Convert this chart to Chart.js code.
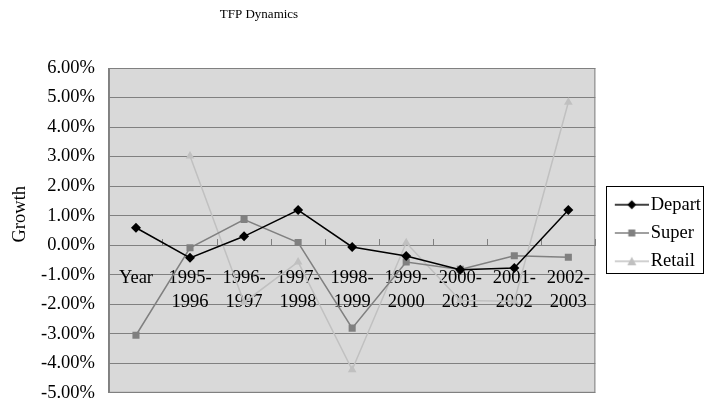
<!DOCTYPE html>
<html>
<head>
<meta charset="utf-8">
<script src="https://cdn.jsdelivr.net/npm/chart.js@4"></script>
<style>
html, body { margin: 0; padding: 0; background: #fff; }
#wrap { width: 705px; height: 403px; }
</style>
</head>
<body>
<div id="wrap"><canvas id="myChart" width="705" height="403"></canvas></div>
<script>
// data (values in %)
const categories = ['Year', ['1995-', '1996'], ['1996-', '1997'], ['1997-', '1998'], ['1998-', '1999'],
  ['1999-', '2000'], ['2000-', '2001'], ['2001-', '2002'], ['2002-', '2003']];
const depart = [0.59, -0.43, 0.30, 1.19, -0.06, -0.37, -0.83, -0.77, 1.19];
const superValues = [-3.05, -0.09, 0.87, 0.09, -2.81, -0.57, -0.82, -0.36, -0.41];
const retail = [null, 3.02, -1.94, -0.57, -4.22, 0.08, -1.87, -1.90, 4.84];
const yMin = -5;
const yMax = 6;
const yStep = 1;

const serif = "'Liberation Serif', 'Times New Roman', serif";

// line + marker pictures for the legend (line sits in the right part of the image)
function makeIcon(color, shape) {
  let c = document.createElement('canvas');
  c.width = 51; c.height = 12;
  let ctx = c.getContext('2d');
  ctx.strokeStyle = color;
  ctx.fillStyle = color;
  ctx.lineWidth = 1.5;
  ctx.beginPath(); ctx.moveTo(17, 6); ctx.lineTo(51, 6); ctx.stroke();
  ctx.beginPath();
  let m = 34;
  if (shape == 'diamond') {
    ctx.moveTo(m, 1.5); ctx.lineTo(m + 4.5, 6); ctx.lineTo(m, 10.5); ctx.lineTo(m - 4.5, 6);
  } else if (shape == 'square') {
    ctx.rect(m - 3.5, 2.5, 7, 7);
  } else {
    ctx.moveTo(m, 1.5); ctx.lineTo(m + 4.5, 10); ctx.lineTo(m - 4.5, 10);
  }
  ctx.closePath(); ctx.fill();
  return c;
}
const icons = [makeIcon('#000000', 'diamond'), makeIcon('#808080', 'square'), makeIcon('#c0c0c0', 'triangle')];

const plotBox = {
  id: 'plotBox',
  beforeDraw(chart) {
    const {ctx, chartArea: a} = chart;
    ctx.save();
    ctx.fillStyle = '#d9d9d9';
    ctx.fillRect(a.left, a.top, a.right - a.left, a.bottom - a.top);
    ctx.strokeStyle = '#808080';
    ctx.lineWidth = 1;
    ctx.strokeRect(a.left + 0.5, a.top + 0.5, a.right - a.left - 1, a.bottom - a.top - 1);
    ctx.restore();
  },
  afterLayout(chart) {
    // title sits left of centre in the original
    if (chart.titleBlock) {
      chart.titleBlock.left = 0;
      chart.titleBlock.right = 518;
    }
  },
  afterDraw(chart) {
    const hb = chart.legend.legendHitBoxes;
    if (!hb || !hb.length) return;
    const ctx = chart.ctx;
    let last = hb[hb.length - 1];
    let x0 = Math.round(chart.chartArea.right + 11);
    let y0 = Math.round(hb[0].top + hb[0].height / 2 - 19);
    let y1 = Math.round(last.top + last.height / 2 + 12);
    ctx.save();
    ctx.strokeStyle = '#000';
    ctx.lineWidth = 1;
    ctx.strokeRect(x0 + 0.5, y0 + 0.5, 703 - x0, y1 - y0);
    ctx.restore();
  }
};

const mydata = {
  labels: categories,
  datasets: [{
    label: 'Depart',
    data: depart,
    borderColor: '#000000',
    backgroundColor: '#000000',
    borderWidth: 1.5,
    pointStyle: 'rectRot',
    pointRadius: 5,
    pointBorderWidth: 0,
    tension: 0
  }, {
    label: 'Super',
    data: superValues,
    borderColor: '#808080',
    backgroundColor: '#808080',
    borderWidth: 1.5,
    pointStyle: 'rect',
    pointRadius: 5,
    pointBorderWidth: 0,
    tension: 0
  }, {
    label: 'Retail',
    data: retail,
    borderColor: '#c0c0c0',
    backgroundColor: '#c0c0c0',
    borderWidth: 1.5,
    pointStyle: 'triangle',
    pointRadius: 5,
    pointBorderWidth: 0,
    tension: 0
  }]
};

const myconfig = {
  type: 'line',
  data: mydata,
  plugins: [plotBox],
  options: {
    responsive: false,
    animation: false,
    layout: { padding: { left: 9, right: -6, top: 0, bottom: 0 } },
    plugins: {
      tooltip: { enabled: false },
      title: {
        display: true,
        text: 'TFP Dynamics',
        color: '#000',
        font: { family: serif, size: 13, weight: 'normal' },
        padding: { top: 7, bottom: 45.4 }
      },
      legend: {
        position: 'right',
        title: { display: true, text: ' ', font: { size: 10 }, padding: { top: 0, bottom: 51 } },
        labels: {
          usePointStyle: true,
          pointStyleWidth: 36.25,
          padding: 9.8,
          color: '#000',
          font: { family: serif, size: 18.5 },
          generateLabels(chart) {
            return chart.data.datasets.map((ds, i) => ({
              text: ds.label,
              pointStyle: icons[i],
              fillStyle: ds.borderColor,
              strokeStyle: ds.borderColor,
              lineWidth: 0,
              fontColor: '#000',
              hidden: false,
              datasetIndex: i
            }));
          }
        }
      }
    },
    scales: {
      x: {
        position: { y: 0 },
        offset: true,
        grid: { display: true, drawOnChartArea: false, drawTicks: true, tickLength: 21, tickColor: 'rgba(0,0,0,0)', offset: true },
        border: { display: true, color: '#808080' },
        ticks: {
          color: '#000',
          font: { family: serif, size: 18.5, lineHeight: 1.3 },
          maxRotation: 0,
          autoSkip: false,
          padding: 0
        }
      },
      // second category axis only for the small marks above the zero line
      xMarks: {
        type: 'category',
        position: { y: 0 },
        offset: true,
        grid: { display: true, drawOnChartArea: false, drawTicks: true, tickLength: -6, tickColor: '#808080', offset: true },
        border: { display: false },
        ticks: { display: false, padding: 0 }
      },
      y: {
        min: yMin,
        max: yMax,
        grid: { color: '#808080', drawTicks: true, tickLength: 14, tickColor: 'rgba(0,0,0,0)' },
        border: { display: true, color: '#808080' },
        ticks: {
          stepSize: yStep,
          color: '#000',
          padding: 0,
          font: { family: serif, size: 18.5, lineHeight: 1.1 },
          callback: v => v.toFixed(2) + '%'
        },
        title: {
          display: true,
          text: '       Growth',
          color: '#000',
          padding: { top: 0, bottom: 9.8 },
          font: { family: serif, size: 18.5 }
        }
      }
    }
  }
};

const myChart = new Chart(document.getElementById('myChart'), myconfig);
</script>
</body>
</html>
